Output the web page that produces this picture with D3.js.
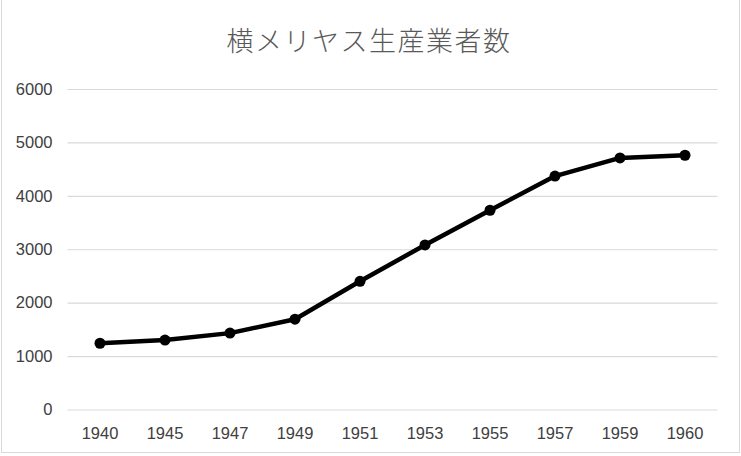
<!DOCTYPE html>
<html>
<head>
<meta charset="utf-8">
<script src="https://cdn.jsdelivr.net/npm/d3@7/dist/d3.min.js"></script>
<style>
  html, body { margin: 0; padding: 0; background: #fff; }
  svg { display: block; }
</style>
</head>
<body>
<svg id="chart" width="741" height="456"></svg>
<script>
const title = "横メリヤス生産業者数";
const years = ["1940","1945","1947","1949","1951","1953","1955","1957","1959","1960"];
const producers = [1240, 1300, 1430, 1690, 2400, 3080, 3730, 4370, 4710, 4760];
const yTicks = [0, 1000, 2000, 3000, 4000, 5000, 6000];

(function () {
const svg = d3.select("#chart");
const plotLeft = 67.5, plotRight = 717.5, plotTop = 89, plotBottom = 409.5;

svg.append("rect")
  .attr("x", 1.5).attr("y", -2).attr("width", 738).attr("height", 454.5)
  .attr("fill", "#fff").attr("stroke", "#d9d9d9").attr("stroke-width", 1);

const x = d3.scaleBand().domain(years).range([plotLeft, plotRight]).padding(0);
const y = d3.scaleLinear().domain([0, 6000]).range([plotBottom, plotTop]);

const yAxis = d3.axisLeft(y).tickValues(yTicks).tickSize(-(plotRight - plotLeft)).tickPadding(15).tickFormat(d3.format("d"));
const gy = svg.append("g").attr("transform", `translate(${plotLeft},0)`).call(yAxis);
gy.select(".domain").remove();
gy.selectAll(".tick line").attr("stroke", "#d9d9d9").attr("stroke-width", 1.2);
gy.selectAll(".tick text")
  .attr("fill", "#404040")
  .style("font-family", "'Liberation Sans', Arial, sans-serif")
  .style("font-size", "16.5px");

const xAxis = d3.axisBottom(x).tickSize(0).tickPadding(0);
const gx = svg.append("g").attr("transform", `translate(0,${plotBottom})`).call(xAxis);
gx.select(".domain").remove();
gx.selectAll(".tick text")
  .attr("y", 29.5).attr("dy", 0)
  .attr("fill", "#404040")
  .style("font-family", "'Liberation Sans', Arial, sans-serif")
  .style("font-size", "16.5px");

const cx = d => x(d) + x.bandwidth() / 2;
const data = years.map((yr, i) => ({ yr, v: producers[i] }));

svg.append("path")
  .datum(data)
  .attr("fill", "none")
  .attr("stroke", "#000")
  .attr("stroke-width", 4.5)
  .attr("stroke-linejoin", "round")
  .attr("d", d3.line().x(d => cx(d.yr)).y(d => y(d.v)));

svg.append("g").selectAll("circle")
  .data(data)
  .join("circle")
  .attr("cx", d => cx(d.yr))
  .attr("cy", d => y(d.v))
  .attr("r", 5.5)
  .attr("fill", "#000");

svg.append("text")
  .attr("x", 369).attr("y", 51)
  .attr("text-anchor", "middle")
  .attr("fill", "#595959")
  .style("font-family", "'Noto Sans CJK JP', sans-serif")
  .style("font-size", "27px")
  .style("font-weight", 300)
  .style("letter-spacing", "1.5px")
  .text(title);
})();
</script>
</body>
</html>
